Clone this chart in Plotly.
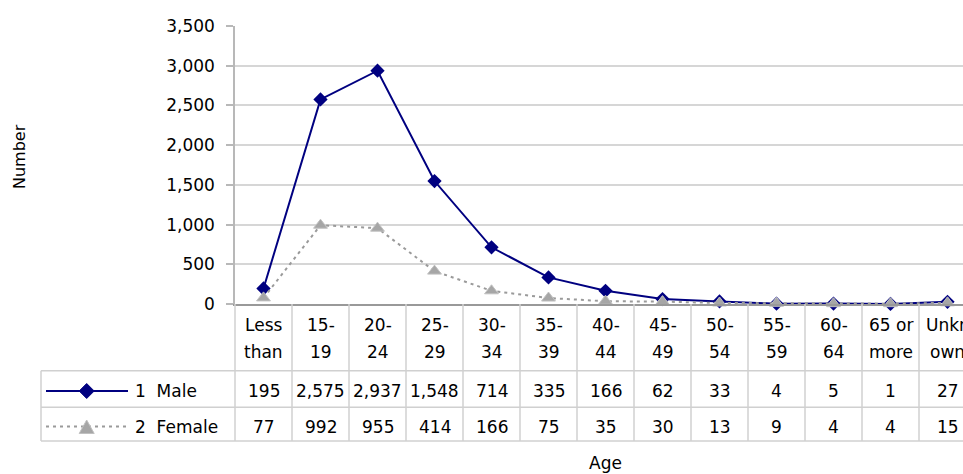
import plotly.graph_objects as go

# ---------------- data ----------------
categories = ["Less than 15", "15-19", "20-24", "25-29", "30-34", "35-39", "40-44",
              "45-49", "50-54", "55-59", "60-64", "65 or more", "Unknown"]
header_line1 = ["Less", "15-", "20-", "25-", "30-", "35-", "40-", "45-", "50-", "55-", "60-", "65 or", "Unkn"]
header_line2 = ["than", "19", "24", "29", "34", "39", "44", "49", "54", "59", "64", "more", "own"]
male = [195, 2575, 2937, 1548, 714, 335, 166, 62, 33, 4, 5, 1, 27]
female = [77, 992, 955, 414, 166, 75, 35, 30, 13, 9, 4, 4, 15]
series_labels = ["1\u00a0\u00a0Male", "2\u00a0\u00a0Female"]
y_ticks = [0, 500, 1000, 1500, 2000, 2500, 3000, 3500]
y_title = "Number"
x_title = "Age"

# ---------------- layout geometry ----------------
W, H = 963, 474
L, T = 235, 26
PW, PH = W - L, 278
B = H - T - PH
COLW = 57.0
x_range = [-0.5, -0.5 + PW / COLW]

FONT = "DejaVu Sans"
NAVY = "#000080"
GREY_LINE = "#9a9a9a"
GREY_MARK = "#a6a6a6"
TABLE = "#d0d0d0"


def px(xp):
    return (xp - L) / PW


def py(yp):
    return (T + PH - yp) / PH


fig = go.Figure()
fig.add_trace(go.Scatter(
    x=categories, y=male, mode="lines+markers", name=series_labels[0],
    line=dict(color=NAVY, width=2),
    marker=dict(symbol="diamond", size=11, color=NAVY),
    cliponaxis=False, showlegend=False))
fig.add_trace(go.Scatter(
    x=categories, y=female, mode="lines+markers", name=series_labels[1],
    line=dict(color=GREY_LINE, width=2, dash="3px,4px"),
    marker=dict(symbol="triangle-up", size=12, color=GREY_MARK,
                line=dict(color="#c0c0c0", width=1)),
    cliponaxis=False, showlegend=False))

shapes = []
annotations = []

# table rows (pixel y)
y_head_bot, y_male_bot, y_fem_bot = 370.7, 407.3, 441.0
y_line1, y_line2 = 324.5, 351.5
y_male, y_fem = 391.0, 426.5
x_tab_left = 41

line_style = dict(color=TABLE, width=1.5)
for yy in (y_head_bot, y_male_bot, y_fem_bot):
    shapes.append(dict(type="line", xref="paper", yref="paper",
                       x0=px(x_tab_left), x1=1, y0=py(yy), y1=py(yy), line=line_style))
shapes.append(dict(type="line", xref="paper", yref="paper",
                   x0=px(x_tab_left), x1=px(x_tab_left),
                   y0=py(y_head_bot), y1=py(y_fem_bot), line=line_style))
for k in range(len(categories)):
    xx = L + k * COLW
    shapes.append(dict(type="line", xref="paper", yref="paper",
                       x0=px(xx), x1=px(xx), y0=py(T + PH), y1=py(y_fem_bot),
                       line=line_style))

tfont = dict(family=FONT, size=17, color="black")
for i in range(len(categories)):
    for txt, yy in ((header_line1[i], y_line1), (header_line2[i], y_line2),
                    (f"{male[i]:,}", y_male), (f"{female[i]:,}", y_fem)):
        annotations.append(dict(text=txt, x=i, xref="x", y=py(yy), yref="paper",
                                xanchor="center", yanchor="middle", showarrow=False,
                                font=tfont))

# legend keys in the table
key_x0, key_x1, key_cx = 46, 128, 86.7
shapes.append(dict(type="line", xref="paper", yref="paper",
                   x0=px(key_x0), x1=px(key_x1), y0=py(y_male), y1=py(y_male),
                   line=dict(color=NAVY, width=2)))
shapes.append(dict(type="line", xref="paper", yref="paper",
                   x0=px(key_x0), x1=px(key_x1), y0=py(y_fem), y1=py(y_fem),
                   line=dict(color=GREY_LINE, width=2, dash="3px,4px")))
d = 7.5
shapes.append(dict(type="path", xref="paper", yref="paper",
                   path=(f"M{px(key_cx - d)},{py(y_male)} L{px(key_cx)},{py(y_male - d)} "
                         f"L{px(key_cx + d)},{py(y_male)} L{px(key_cx)},{py(y_male + d)} Z"),
                   fillcolor=NAVY, line=dict(color=NAVY, width=1)))
shapes.append(dict(type="path", xref="paper", yref="paper",
                   path=(f"M{px(key_cx - 7.5)},{py(y_fem + 7)} L{px(key_cx)},{py(y_fem - 6.5)} "
                         f"L{px(key_cx + 7.5)},{py(y_fem + 7)} Z"),
                   fillcolor=GREY_MARK, line=dict(color="#c0c0c0", width=1)))
for lab, yy in zip(series_labels, (y_male, y_fem)):
    annotations.append(dict(text=lab, x=px(133), xref="paper", y=py(yy), yref="paper",
                            xanchor="left", yanchor="middle", showarrow=False, font=tfont))

# axis titles
annotations.append(dict(text=y_title, x=px(19), xref="paper", y=py(157), yref="paper",
                        textangle=-90, xanchor="center", yanchor="middle", showarrow=False,
                        font=dict(family=FONT, size=16, color="black")))
annotations.append(dict(text=x_title, x=px(605), xref="paper", y=py(463), yref="paper",
                        xanchor="center", yanchor="middle", showarrow=False,
                        font=dict(family=FONT, size=17, color="black")))

fig.update_layout(
    width=W, height=H,
    margin=dict(l=L, r=0, t=T, b=B, pad=0),
    paper_bgcolor="white", plot_bgcolor="white",
    font=dict(family=FONT, size=17, color="black"),
    shapes=shapes, annotations=annotations,
    xaxis=dict(type="category", range=x_range, showticklabels=False, showgrid=False,
               zeroline=False, showline=True, linecolor="#999999", linewidth=2,
               ticks="", fixedrange=True),
    yaxis=dict(range=[0, 3500], tickvals=y_ticks, tickformat=",d", showgrid=True,
               gridcolor="#d6d6d6", gridwidth=1.5, zeroline=False, showline=True,
               linecolor="#b8b8b8", linewidth=1.5, ticks="outside", ticklen=7,
               tickcolor="#b8b8b8", tickwidth=1.5, ticklabelstandoff=8,
               tickfont=dict(family=FONT, size=17, color="black")),
    showlegend=False,
)

fig.write_html(
    "out.html",
    config={"displayModeBar": False},
    post_script="document.documentElement.style.margin='0';document.body.style.margin='0';"
                "document.body.style.overflow='hidden';",
)
